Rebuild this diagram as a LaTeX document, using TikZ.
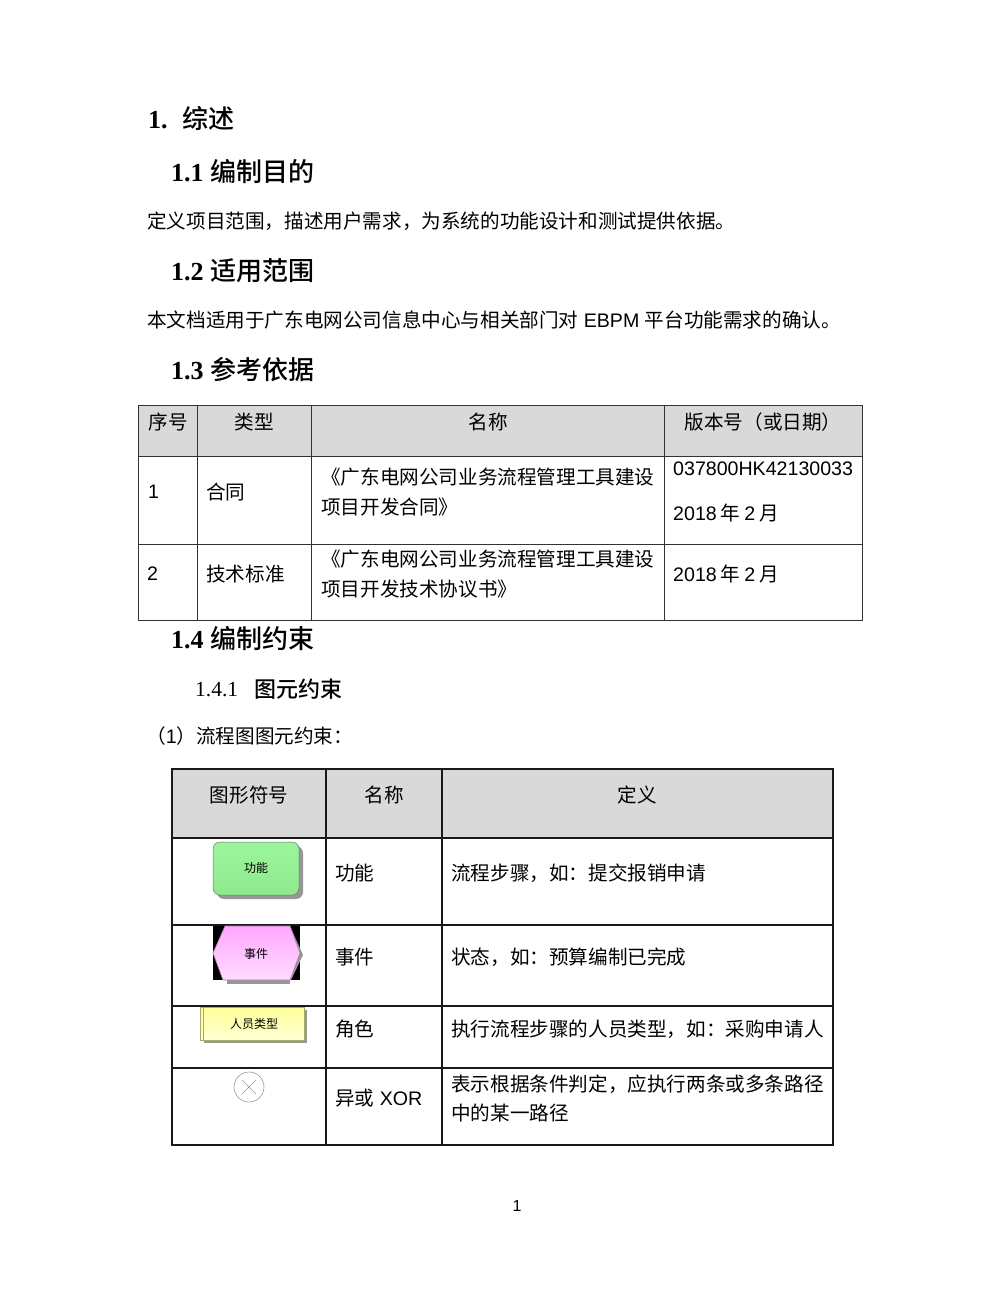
\documentclass[tikz,border=0pt]{standalone}
\usepackage{fontspec}
\usepackage{tikz}
\usetikzlibrary{shadows}
\setmainfont{Noto Sans CJK SC}
\newfontfamily\latfont{Liberation Sans}
\newfontfamily\serfont{Liberation Serif}
\newfontfamily\headfont{Noto Sans CJK SC Medium}
\newcommand{\lat}[1]{{\latfont #1}}
\newcommand{\ser}[1]{{\serfont\bfseries #1}}
\newcommand{\datetext}{\lat{2018}\hspace{4pt}年\hspace{4pt}\lat{2}\hspace{4pt}月}
\definecolor{headgray}{HTML}{D9D9D9}
\definecolor{shadowgray}{HTML}{979797}
\definecolor{funcfilla}{HTML}{9BF59B}
\definecolor{funcfillb}{HTML}{8FEA8F}
\definecolor{eventfilla}{HTML}{FFA6FF}
\definecolor{eventfillb}{HTML}{FFDCFF}
\definecolor{eventline}{HTML}{A77FA7}
\definecolor{rolefilla}{HTML}{FFFF99}
\definecolor{rolefillb}{HTML}{FFFFD2}
\definecolor{roleline}{HTML}{A9A96A}
\tikzset{
  cell/.style={anchor=base west,inner sep=0pt,font=\fontsize{19.6}{24}\selectfont},
  headcell/.style={anchor=base,inner sep=0pt,font=\fontsize{19.6}{24}\selectfont},
  headone/.style={anchor=base west,inner sep=0pt,font=\fontsize{26}{30}\selectfont\headfont},
  thin table/.style={line width=.7pt,draw=black!80},
  thick table/.style={line width=1.6pt,draw=black!90},
  label/.style={anchor=base,inner sep=0pt,font=\fontsize{12}{14}\selectfont}
}
\begin{document}
\begin{tikzpicture}[x=1pt,y=-1pt]
\useasboundingbox (0,0) rectangle (1000,1294);
\fill [white] (0,0) rectangle (1000,1294);

\node (main) [headone] at (148,128) {\ser{1.}\hspace{15pt}综述};
\node (purpose) [headone] at (171,181) {\ser{1.1 }编制目的};
\node (purposetext) [cell] at (147,228) {定义项目范围，描述用户需求，为系统的功能设计和测试提供依据。};
\node (scope) [headone] at (171,280) {\ser{1.2 }适用范围};
\node (scopetext) [cell] at (147,327) {本文档适用于广东电网公司信息中心与相关部门对\lat{ EBPM }平台功能需求的确认。};
\node (refs) [headone] at (171,379) {\ser{1.3 }参考依据};

\fill [headgray] (138,405) rectangle (862,456);
\draw [thin table] (138,405) rectangle (862,620);
\foreach \y in {456,544}
  \draw [thin table] (138,\y) -- (862,\y);
\foreach \x in {197,311,664}
  \draw [thin table] (\x,405) -- (\x,620);
\node (refno) [headcell] at (168,429) {序号};
\node (reftype) [headcell] at (254,429) {类型};
\node (refname) [headcell] at (488,429) {名称};
\node (refver) [headcell] at (763,429) {版本号（或日期）};
\node (rowa) [cell] at (148,498) {\lat{1}};
\node (rowatype) [cell] at (206,499) {合同};
\node (rowaname) [cell] at (321,484) {《广东电网公司业务流程管理工具建设};
\node (rowanameb) [cell] at (321,514) {项目开发合同》};
\node (rowaver) [cell] at (673,475) {\lat{037800HK42130033}};
\node (rowadate) [cell] at (673,520) {\datetext};
\node (rowb) [cell] at (147,580) {\lat{2}};
\node (rowbtype) [cell] at (206,581) {技术标准};
\node (rowbname) [cell] at (321,566) {《广东电网公司业务流程管理工具建设};
\node (rowbnameb) [cell] at (321,596) {项目开发技术协议书》};
\node (rowbdate) [cell] at (673,581) {\datetext};

\node (limits) [headone] at (171,648) {\ser{1.4 }编制约束};
\node (symbolsec) [cell] at (195,696) {\fontsize{21.5}{24}\selectfont\serfont 1.4.1};
\node (symboltitle) [cell,font=\fontsize{22}{24}\selectfont\headfont] at (254,697) {图元约束};
\node (flowsec) [cell] at (146,743) {（\lat{1}）流程图图元约束：};

\fill [headgray] (172,769) rectangle (833,838);
\draw [thick table] (172,769) rectangle (833,1145);
\foreach \y in {838,925,1006,1068}
  \draw [thick table] (172,\y) -- (833,\y);
\foreach \x in {326,442}
  \draw [thick table] (\x,769) -- (\x,1145);
\node (symhead) [headcell] at (249,802) {图形符号};
\node (namehead) [headcell] at (384,802) {名称};
\node (defhead) [headcell] at (637,802) {定义};
\node (funcname) [cell] at (335,880) {功能};
\node (funcdef) [cell] at (451,880) {流程步骤，如：提交报销申请};
\node (eventname) [cell] at (335,964) {事件};
\node (eventdef) [cell] at (451,964) {状态，如：预算编制已完成};
\node (rolename) [cell] at (335,1036) {角色};
\node (roledef) [cell] at (451,1036) {执行流程步骤的人员类型，如：采购申请人};
\node (xorname) [cell] at (335,1105) {异或\lat{ XOR}};
\node (xordef) [cell] at (451,1091) {表示根据条件判定，应执行两条或多条路径};
\node (xordefb) [cell] at (451,1120) {中的某一路径};

\draw [rounded corners=7pt,draw=black!55,line width=.5pt,top color=funcfilla,bottom color=funcfillb,
  drop shadow={shadow xshift=4pt,shadow yshift=-4pt,fill=shadowgray,opacity=1}]
  (213,842) rectangle (299,895);
\node (func) [label] at (256,872) {功能};

\fill [black] (213,926) rectangle (300,980);
\fill [shadowgray] (227,980) -- (290,980) -- (290,984) -- (227,984) -- cycle;
\fill [shadowgray] (290,926) -- (303,955) -- (291,980) -- (290,980) -- cycle;
\draw [draw=eventline,line width=.6pt,top color=eventfilla,bottom color=eventfillb]
  (225,926) -- (290,926) -- (300,953) -- (290,980) -- (223,980) -- (213,953) -- cycle;
\node (event) [label] at (256,958) {事件};

\fill [shadowgray] (204,1010) rectangle (307,1043);
\draw [draw=roleline,line width=.5pt,top color=rolefilla,bottom color=rolefillb]
  (200,1007) rectangle (304,1040);
\draw [draw=roleline,line width=.4pt] (203,1007) -- (203,1040);
\node (role) [label] at (254,1028) {人员类型};

\node (xor) [circle,draw=black!40,line width=.6pt,minimum size=30pt,inner sep=0pt] at (249,1087) {};
\draw [draw=black!40,line width=.5pt,shorten >=5.5pt,shorten <=5.5pt] (xor.north west) -- (xor.south east);
\draw [draw=black!40,line width=.5pt,shorten >=5.5pt,shorten <=5.5pt] (xor.north east) -- (xor.south west);

\node (pageno) [anchor=base,inner sep=0pt,font=\fontsize{16}{18}\selectfont\latfont] at (517,1211) {1};
\end{tikzpicture}
\end{document}
